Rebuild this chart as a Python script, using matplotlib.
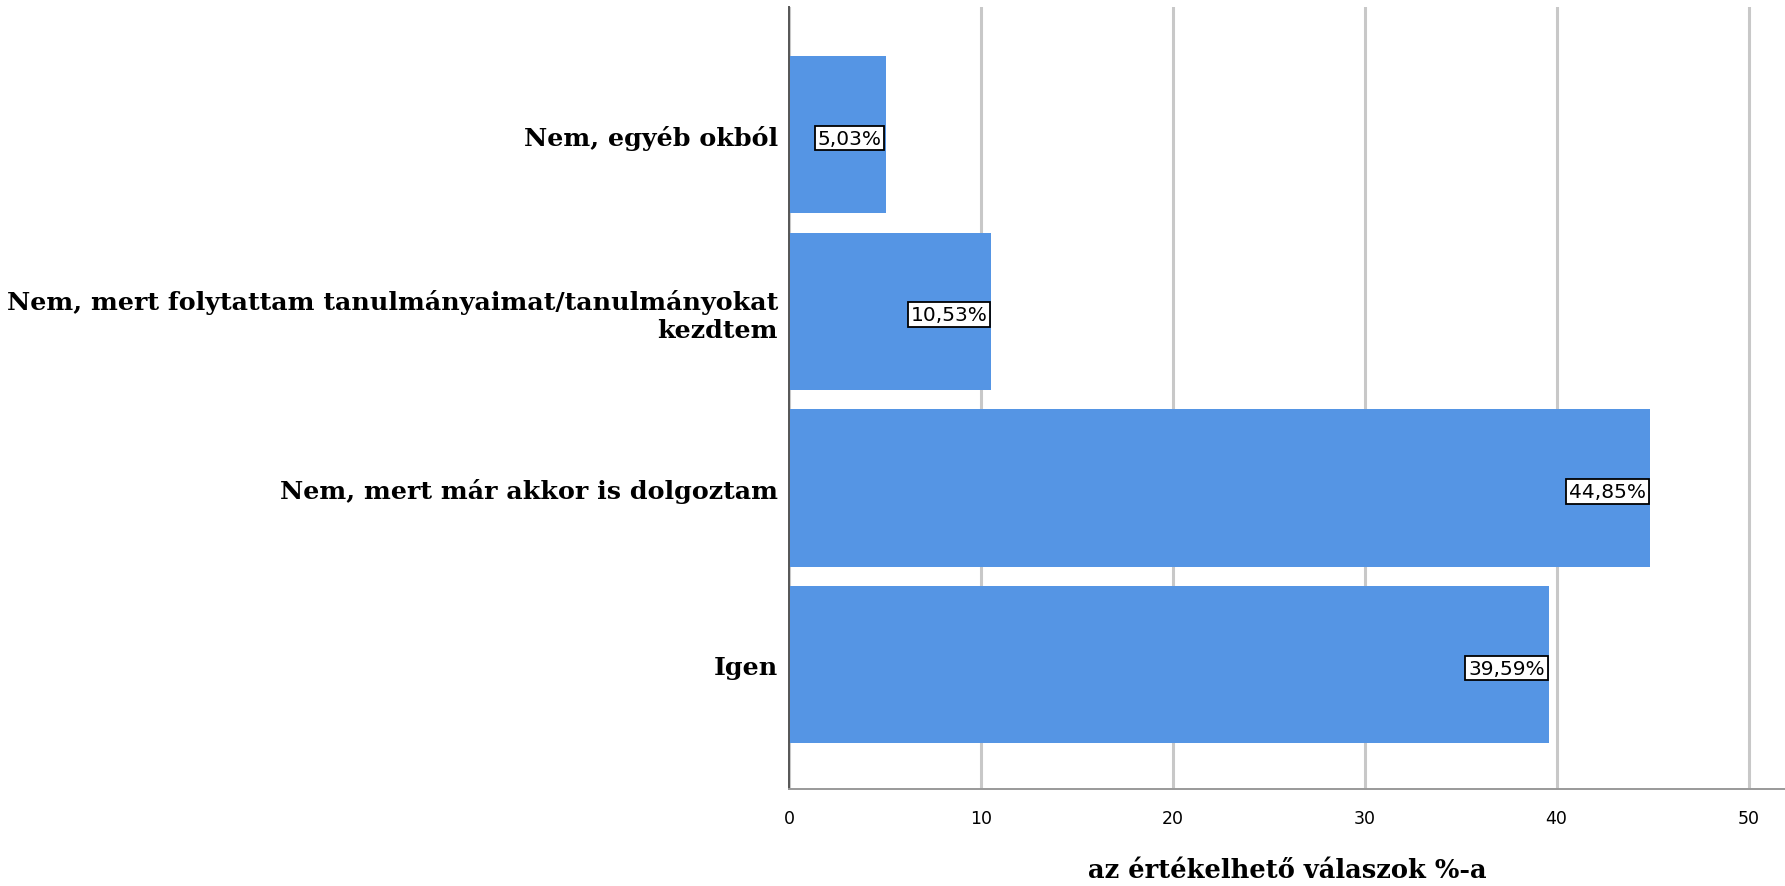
import numpy as np
import matplotlib.pyplot as plt

categories = [
    "Igen",
    "Nem, mert már akkor is dolgoztam",
    "Nem, mert folytattam tanulmányaimat/tanulmányokat\nkezdtem",
    "Nem, egyéb okból",
]
values = [39.59, 44.85, 10.53, 5.03]
value_labels = ["39,59%", "44,85%", "10,53%", "5,03%"]
xticks = [0, 10, 20, 30, 40, 50]

bar_color = "#5595e4"
serif = ["DejaVu Serif"]

fig = plt.figure(figsize=(17.85, 8.87), dpi=100)
ax = fig.add_axes([0.442, 0.109, 0.558, 0.8816])

y = np.arange(len(categories))
ax.barh(y, values, height=0.89, color=bar_color, zorder=2)

for yi, v, lab in zip(y, values, value_labels):
    ax.text(v - 0.2, yi - 0.02, lab, ha="right", va="center", fontsize=14.5,
            family="DejaVu Sans", zorder=3,
            bbox=dict(boxstyle="square,pad=0.14", fc="white", ec="black", lw=1.3))

ax.set_xlim(0, 51.9)
ax.set_ylim(-0.706, 3.72)
ax.set_xticks(xticks)
ax.set_xticklabels([str(t) for t in xticks], family="DejaVu Sans", fontsize=12.5)
ax.set_yticks(y)
ax.set_yticklabels(categories, family=serif, fontweight="bold", fontsize=18.3,
                   multialignment="right")
ax.tick_params(axis="both", length=0)
ax.tick_params(axis="x", pad=14)
ax.tick_params(axis="y", pad=8)

ax.grid(axis="x", color="#c8c8c8", linewidth=2.2, zorder=1)
ax.set_axisbelow(True)
for s in ["top", "right"]:
    ax.spines[s].set_visible(False)
ax.spines["left"].set_color("#555555")
ax.spines["left"].set_linewidth(1.4)
ax.spines["bottom"].set_color("#999999")
ax.spines["bottom"].set_linewidth(1.4)

ax.set_xlabel("az értékelhető válaszok %-a", family=serif, fontweight="bold",
              fontsize=18.5, labelpad=22)

fig.savefig("out.png", dpi=100)
